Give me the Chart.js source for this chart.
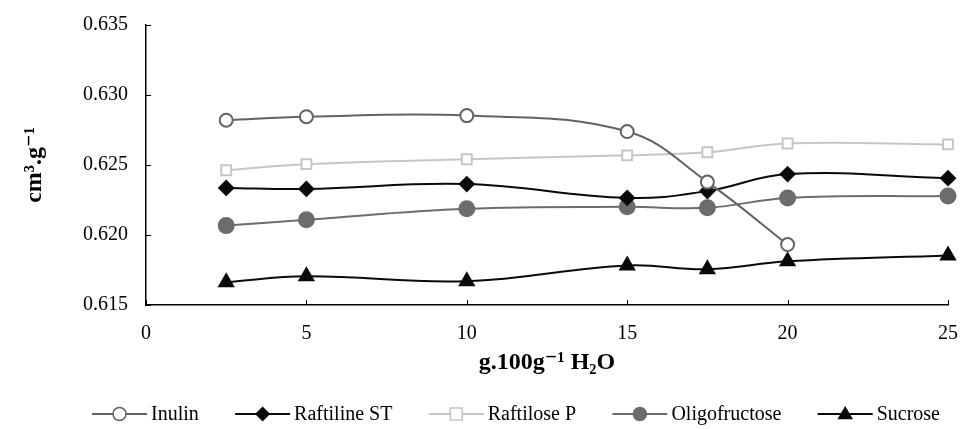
<!DOCTYPE html>
<html>
<head>
<meta charset="utf-8">
<script src="https://cdn.jsdelivr.net/npm/chart.js@4"></script>
<style>
  html, body { margin: 0; padding: 0; background: #fff; }
  #wrap { width: 970px; height: 429px; }
</style>
</head>
<body>
<div id="wrap"><canvas id="grafico" width="970" height="429"></canvas></div>
<script>
// Dados
const xVals = [2.5, 5, 10, 15, 17.5, 20, 25];
const inulin = [0.6282, 0.62845, 0.62853, 0.62739, 0.62378, 0.61932, null];
const raftilineST = [0.62336, 0.62329, 0.62364, 0.62265, 0.62314, 0.62435, 0.62406];
const raftiloseP = [0.62463, 0.62506, 0.62541, 0.62569, 0.62591, 0.62654, 0.62647];
const oligofructose = [0.62067, 0.62109, 0.62187, 0.62201, 0.62194, 0.62265, 0.62279];
const sucrose = [0.61663, 0.61705, 0.6167, 0.61783, 0.61755, 0.61812, 0.61854];
const yTicks = [0.615, 0.620, 0.625, 0.630, 0.635];
const xTicks = [0, 5, 10, 15, 20, 25];

const pts = arr => xVals.map((x, i) => ({ x: x, y: arr[i] })).filter(p => p.y !== null);

const serif = "'Liberation Serif', 'DejaVu Serif', serif";

function serie(label, data, cor, estilo, preenchido, raio) {
    return {
        label: label,
        data: pts(data),
        borderColor: cor,
        backgroundColor: preenchido ? cor : '#ffffff',
        pointStyle: estilo,
        pointRadius: raio,
        pointBorderWidth: 2,
        pointBorderColor: cor,
        pointBackgroundColor: preenchido ? cor : '#ffffff',
        borderWidth: 2,
        tension: 0.4,
        clip: false,
        fill: false
    };
}

// Desenha um marcador simples para a legenda
function marcador(c, ds, x, y, r) {
    c.save();
    c.fillStyle = ds.pointBackgroundColor;
    c.strokeStyle = ds.pointBorderColor;
    c.lineWidth = 1.5;
    c.beginPath();
    if (ds.pointStyle === 'circle') {
        c.arc(x, y, r, 0, Math.PI * 2);
    } else if (ds.pointStyle === 'rect') {
        c.rect(x - r, y - r, 2 * r, 2 * r);
    } else if (ds.pointStyle === 'rectRot') {
        c.moveTo(x, y - r); c.lineTo(x + r, y); c.lineTo(x, y + r); c.lineTo(x - r, y); c.closePath();
    } else if (ds.pointStyle === 'triangle') {
        c.moveTo(x, y - r); c.lineTo(x + r, y + r * 0.7); c.lineTo(x - r, y + r * 0.7); c.closePath();
    }
    c.fill();
    c.stroke();
    c.restore();
}

// Marcas de escala que cruzam o eixo, como no original
const marcasCruzadas = {
    id: 'marcasCruzadas',
    afterDraw(chart) {
        const c = chart.ctx;
        const sx = chart.scales.x, sy = chart.scales.y;
        const a = chart.chartArea;
        c.save();
        c.strokeStyle = '#000';
        c.lineWidth = 1;
        xTicks.forEach(v => {
            const px = Math.round(sx.getPixelForValue(v)) + 0.5;
            c.beginPath(); c.moveTo(px, a.bottom - 5); c.lineTo(px, a.bottom); c.stroke();
        });
        yTicks.forEach(v => {
            const py = Math.round(sy.getPixelForValue(v)) + 0.5;
            c.beginPath(); c.moveTo(a.left, py); c.lineTo(a.left + 5, py); c.stroke();
        });
        c.restore();
    }
};

// Legenda no estilo do Excel: linha com o marcador no meio
const legendaExcel = {
    id: 'legendaExcel',
    afterDraw(chart) {
        const c = chart.ctx;
        const dss = chart.data.datasets;
        c.save();
        c.font = '20px ' + serif;
        c.textBaseline = 'middle';
        c.fillStyle = '#000';
        const larguras = dss.map(d => c.measureText(d.label).width);
        const inicio = 92, fim = 940, linha = 55, folga = 4;
        const soma = larguras.reduce((a, b) => a + b, 0) + dss.length * (linha + folga);
        const gap = (fim - inicio - soma) / (dss.length - 1);
        const y = 414;
        let x = inicio;
        dss.forEach((ds, i) => {
            c.strokeStyle = ds.borderColor;
            c.lineWidth = 2;
            c.beginPath();
            c.moveTo(x, y);
            c.lineTo(x + linha, y);
            c.stroke();
            marcador(c, ds, x + linha / 2, y, ds.pointStyle === 'rect' ? 6 : 6.5);
            c.fillStyle = '#000';
            c.fillText(ds.label, x + linha + folga, y + 1);
            x += linha + folga + larguras[i] + gap;
        });
        c.restore();
    }
};

const ctx = document.getElementById('grafico').getContext('2d');
new Chart(ctx, {
    type: 'line',
    data: {
        datasets: [
            serie('Inulin', inulin, '#626262', 'circle', false, 6.5),
            serie('Raftiline ST', raftilineST, '#0a0a0a', 'rectRot', true, 7),
            serie('Raftilose P', raftiloseP, '#c6c6c6', 'rect', false, 7),
            serie('Oligofructose', oligofructose, '#6c6c6c', 'circle', true, 7.5),
            serie('Sucrose', sucrose, '#0a0a0a', 'triangle', true, 8)
        ]
    },
    options: {
        responsive: false,
        animation: false,
        layout: { padding: { left: 0, right: 20, top: 22, bottom: 48 } },
        plugins: {
            legend: { display: false },
            tooltip: { enabled: false }
        },
        scales: {
            x: {
                type: 'linear',
                min: 0,
                max: 25,
                afterBuildTicks: s => { s.ticks = xTicks.map(v => ({ value: v })); },
                grid: { display: false, drawTicks: true, tickLength: 5, color: '#000' },
                border: { color: '#000', width: 1.5 },
                ticks: { color: '#000', font: { family: serif, size: 20 }, padding: 12, maxRotation: 0 },
                title: {
                    display: true,
                    text: 'g.100g\u207B\u00B9 H\u2082O',
                    color: '#000',
                    font: { family: serif, size: 24, weight: 'bold' },
                    padding: { top: 0, bottom: 4 }
                },
                afterFit: s => { s.height = 76; }
            },
            y: {
                min: 0.615,
                max: 0.635,
                afterBuildTicks: s => { s.ticks = yTicks.map(v => ({ value: v })); },
                grid: { display: false, drawTicks: true, tickLength: 5, color: '#000' },
                border: { color: '#000', width: 1.5 },
                ticks: {
                    color: '#000',
                    font: { family: serif, size: 20 },
                    padding: 13,
                    callback: v => v.toFixed(3)
                },
                title: {
                    display: true,
                    text: 'cm\u00B3.g\u207B\u00B9',
                    color: '#000',
                    font: { family: serif, size: 24, weight: 'bold' },
                    padding: { top: 20, bottom: 0 }
                },
                afterFit: s => { s.width = 146; }
            }
        }
    },
    plugins: [marcasCruzadas, legendaExcel]
});
</script>
</body>
</html>
